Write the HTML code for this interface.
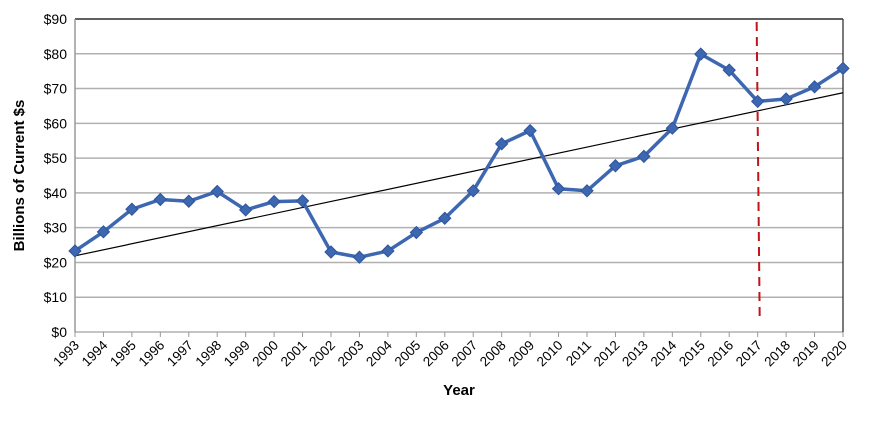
<!DOCTYPE html>
<html><head><meta charset="utf-8"><style>
body{margin:0;background:#fff;width:870px;height:418px;overflow:hidden;font-family:"Liberation Sans",sans-serif}
</style></head><body>
<svg id="chart" width="870" height="418" xmlns="http://www.w3.org/2000/svg"></svg>
<script>
const years=[1993,1994,1995,1996,1997,1998,1999,2000,2001,2002,2003,2004,2005,2006,2007,2008,2009,2010,2011,2012,2013,2014,2015,2016,2017,2018,2019,2020];
const values=[23.3,28.8,35.3,38.1,37.6,40.4,35.1,37.5,37.7,23.0,21.5,23.3,28.6,32.7,40.6,54.1,57.9,41.2,40.6,47.8,50.5,58.6,79.9,75.3,66.3,67.0,70.5,75.8];
const trendStart=21.9, trendEnd=68.8;
const yTicks=[0,10,20,30,40,50,60,70,80,90];
const markerYear=2017;
const L=75,R=843,T=19,B=332;
const xs=i=>L+(R-L)*i/(years.length-1);
const ys=v=>B-(B-T)*v/90;
const svg=document.getElementById('chart');
const NS='http://www.w3.org/2000/svg';
function mk(tag,attrs,parent){const e=document.createElementNS(NS,tag);for(const k in attrs)e.setAttribute(k,attrs[k]);(parent||svg).appendChild(e);return e;}
yTicks.forEach(t=>{
  const g=mk('line',{x1:L,x2:R,y1:ys(t),y2:ys(t),stroke:t===90?'#000':'#b0b0b0','stroke-width':t===90?1.3:1.5});
  
  
  const tx=mk('text',{x:L-8,y:ys(t)+5,'text-anchor':'end','font-size':14,fill:'#000'});
  tx.textContent='$'+t;
  
  
});
const ax=mk('line',{x1:L,x2:L,y1:T,y2:B,stroke:'#999','stroke-width':1.5});

const rx=mk('line',{x1:R,x2:R,y1:T,y2:B,stroke:'#333','stroke-width':1.3});

years.forEach((y,i)=>{
  const x=xs(i);
  const tk=mk('line',{x1:x,x2:x,y1:B,y2:B+5,stroke:'#999'});
  
  const t=mk('text',{x:x+5,y:B+14,'text-anchor':'end','font-size':13.5,fill:'#000',transform:`rotate(-45 ${x+5} ${B+14})`});
  t.textContent=y;
  
});
const tr=mk('line',{x1:xs(0),y1:ys(trendStart),x2:xs(years.length-1),y2:ys(trendEnd),stroke:'#000','stroke-width':1.2});

const mi=years.indexOf(markerYear);
const dl=mk('line',{x1:xs(mi)-1,y1:T+3,x2:xs(mi)+2,y2:B-16,stroke:'#c0141c','stroke-width':2,'stroke-dasharray':'9,6'});

const pts=values.map((v,i)=>xs(i)+','+ys(v)).join(' ');
const pl=mk('polyline',{points:pts,fill:'none',stroke:'#3d67b0','stroke-width':3.5,'stroke-linejoin':'round'});

values.forEach((v,i)=>{
  const x=xs(i),y=ys(v),s=6;
  const m=mk('polygon',{points:`${x},${y-s} ${x+s},${y} ${x},${y+s} ${x-s},${y}`,fill:'#3d67b0',stroke:'#2e559c'});
  
  
});
const yt=mk('text',{x:0,y:0,'text-anchor':'middle','font-size':15,'font-weight':'bold',transform:`translate(24 ${(T+B)/2}) rotate(-90)`});
yt.textContent='Billions of Current $s';

const xt=mk('text',{x:(L+R)/2,y:395,'text-anchor':'middle','font-size':15,'font-weight':'bold'});
xt.textContent='Year';

</script>
</body></html>
